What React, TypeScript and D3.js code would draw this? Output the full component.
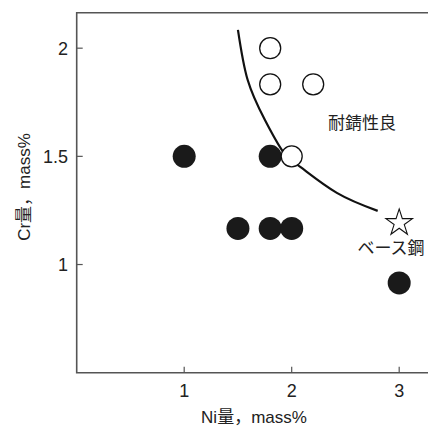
import React, { useRef, useEffect } from 'react';
import * as d3 from 'd3';

// samples (Ni mass%, Cr mass%)
const goodPoints: [number, number][] = [
  [1.8, 2.0],
  [1.8, 1.833],
  [2.2, 1.833],
  [2.0, 1.5],
];
const poorPoints: [number, number][] = [
  [1.0, 1.5],
  [1.8, 1.5],
  [1.5, 1.167],
  [1.8, 1.167],
  [2.0, 1.167],
  [3.0, 0.915],
];
const baseSteel: [number, number] = [3.0, 1.197];
// boundary curve
const boundary: [number, number][] = [
  [1.5, 2.085],
  [1.59, 1.854],
  [1.75, 1.669],
  [1.92, 1.521],
  [2.08, 1.451],
  [2.42, 1.331],
  [2.8, 1.248],
];
const xTicks = [1, 2, 3];
const yTicks = [1, 1.5, 2];

const W = 428;
const H = 426;
const FONT = '"Liberation Sans", Arial, "Noto Sans CJK JP", sans-serif';
const AXIS = '#555';

const App = () => {
  const svgRef = useRef<SVGSVGElement>(null);

  useEffect(() => {
    const svg = d3.select(svgRef.current);
    svg.selectAll('*').remove();

    const x = d3.scaleLinear().domain([0, 3.268]).range([76.7, 428]);
    const y = d3.scaleLinear().domain([0.5, 2.164]).range([372.7, 12.7]);

    const g = svg.append('g');

    // frame: left, bottom and top (no right side)
    g.append('path')
      .attr('d', `M${W},${y(2.164)}H${x(0)}V${y(0.5)}H${W}`)
      .attr('fill', 'none')
      .attr('stroke', AXIS)
      .attr('stroke-width', 1.6);

    // ticks pointing inward
    xTicks.forEach(t => {
      g.append('line')
        .attr('x1', x(t)).attr('x2', x(t))
        .attr('y1', y(0.5)).attr('y2', y(0.5) - 6)
        .attr('stroke', AXIS).attr('stroke-width', 1.2);
      g.append('text')
        .attr('x', x(t)).attr('y', 397)
        .attr('text-anchor', 'middle')
        .attr('font-size', 18)
        .attr('fill', '#222')
        .text(t);
    });
    yTicks.forEach(t => {
      g.append('line')
        .attr('x1', x(0)).attr('x2', x(0) + 6)
        .attr('y1', y(t)).attr('y2', y(t))
        .attr('stroke', AXIS).attr('stroke-width', 1.2);
      g.append('text')
        .attr('x', 68).attr('y', y(t))
        .attr('dy', '0.36em')
        .attr('text-anchor', 'end')
        .attr('font-size', 18)
        .attr('fill', '#222')
        .text(t);
    });

    // axis titles
    g.append('text')
      .attr('x', 254).attr('y', 423)
      .attr('text-anchor', 'middle')
      .attr('font-size', 17)
      .attr('fill', '#222')
      .text('Ni量，mass%');
    g.append('text')
      .attr('transform', 'translate(30,187) rotate(-90)')
      .attr('text-anchor', 'middle')
      .attr('font-size', 17)
      .attr('fill', '#222')
      .text('Cr量，mass%');

    // boundary curve
    g.append('path')
      .datum(boundary)
      .attr('d', d3.line<[number, number]>()
        .x(d => x(d[0]))
        .y(d => y(d[1]))
        .curve(d3.curveNatural))
      .attr('fill', 'none')
      .attr('stroke', '#111')
      .attr('stroke-width', 2.2);

    g.selectAll('circle.poor')
      .data(poorPoints)
      .join('circle')
      .attr('class', 'poor')
      .attr('cx', d => x(d[0]))
      .attr('cy', d => y(d[1]))
      .attr('r', 11.5)
      .attr('fill', '#1a1a1a');

    g.selectAll('circle.good')
      .data(goodPoints)
      .join('circle')
      .attr('class', 'good')
      .attr('cx', d => x(d[0]))
      .attr('cy', d => y(d[1]))
      .attr('r', 10.5)
      .attr('fill', '#fff')
      .attr('stroke', '#111')
      .attr('stroke-width', 1.3);

    // base steel star
    g.append('path')
      .attr('transform', `translate(${x(baseSteel[0])},${y(baseSteel[1]) + 1})`)
      .attr('d', d3.symbol().type(d3.symbolStar).size(220)())
      .attr('fill', '#fff')
      .attr('stroke', '#111')
      .attr('stroke-width', 1.1);

    g.append('text')
      .attr('x', 362).attr('y', 123)
      .attr('dy', '0.36em')
      .attr('text-anchor', 'middle')
      .attr('font-size', 17)
      .attr('fill', '#222')
      .text('耐錆性良');
    g.append('text')
      .attr('x', 391).attr('y', 248)
      .attr('dy', '0.36em')
      .attr('text-anchor', 'middle')
      .attr('font-size', 17)
      .attr('fill', '#222')
      .text('ベース鋼');
  }, []);

  return (
    <svg
      ref={svgRef}
      width={W}
      height={H}
      style={{ position: 'absolute', left: 0, top: 0, background: '#fff', fontFamily: FONT }}
    />
  );
};

export default App;
